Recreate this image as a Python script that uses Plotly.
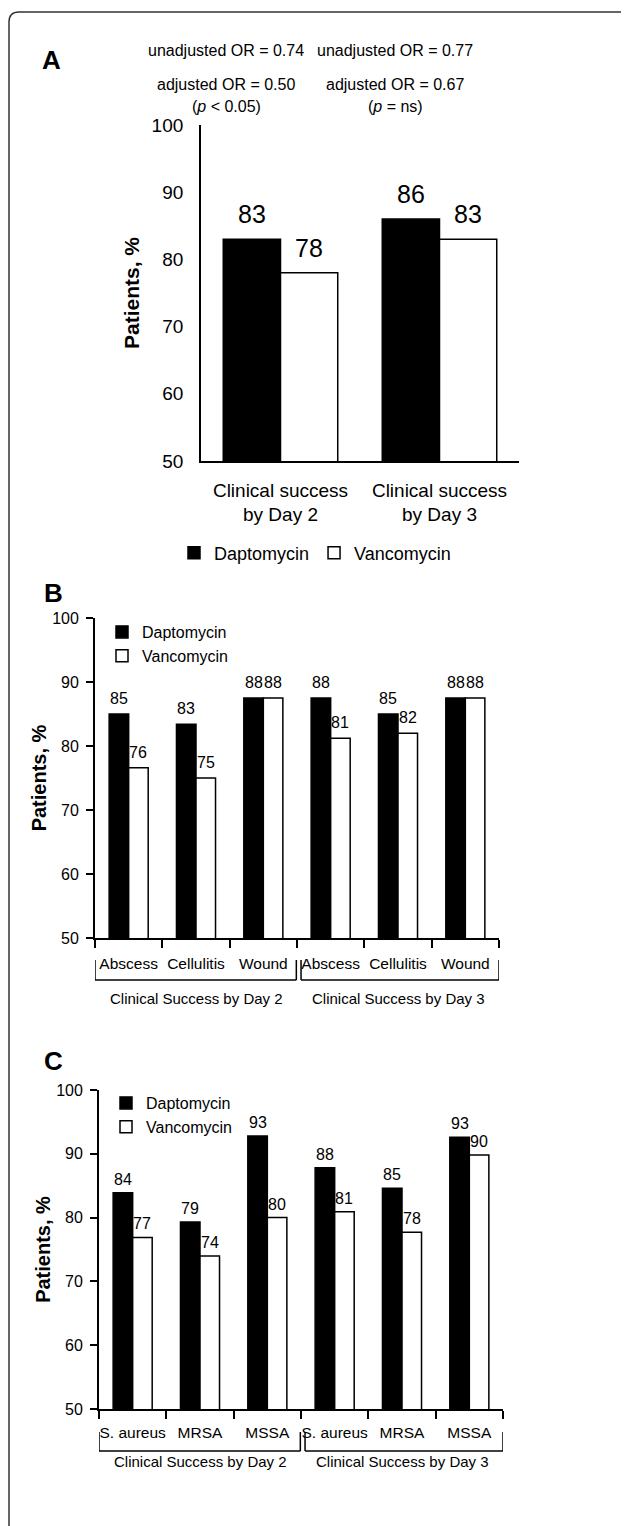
import plotly.graph_objects as go

# ---------------- data ----------------
# Panel A
a_categories = ["Clinical success<br>by Day 2", "Clinical success<br>by Day 3"]
a_dapto = [83, 86]
a_vanco = [78, 83]
a_or_unadjusted = ["unadjusted OR = 0.74", "unadjusted OR = 0.77"]
a_or_adjusted = ["adjusted OR = 0.50", "adjusted OR = 0.67"]
a_p_values = ["(<i>p</i> < 0.05)", "(<i>p</i> = ns)"]

# Panel B
b_ids = ["D2 Abscess", "D2 Cellulitis", "D2 Wound", "D3 Abscess", "D3 Cellulitis", "D3 Wound"]
b_ticktext = ["Abscess", "Cellulitis", "Wound", "Abscess", "Cellulitis", "Wound"]
b_dapto = [85.0, 83.4, 87.5, 87.5, 85.0, 87.5]
b_vanco = [76.6, 75.0, 87.5, 81.2, 82.0, 87.5]
b_dapto_labels = ["85", "83", "88", "88", "85", "88"]
b_vanco_labels = ["76", "75", "88", "81", "82", "88"]

# Panel C
c_ids = ["D2 S. aureus", "D2 MRSA", "D2 MSSA", "D3 S. aureus", "D3 MRSA", "D3 MSSA"]
c_ticktext = ["S. aureus", "MRSA", "MSSA", "S. aureus", "MRSA", "MSSA"]
c_dapto = [83.9, 79.3, 92.8, 87.8, 84.6, 92.6]
c_vanco = [76.9, 74.0, 80.0, 80.9, 77.7, 89.8]
c_dapto_labels = ["84", "79", "93", "88", "85", "93"]
c_vanco_labels = ["77", "74", "80", "81", "78", "90"]

group_names = ["Clinical Success by Day 2", "Clinical Success by Day 3"]
series_names = ["Daptomycin", "Vancomycin"]
y_ticks = [50, 60, 70, 80, 90, 100]

# ---------------- layout helpers ----------------
W, H = 629, 1526
OFF = 8  # page body margin


def X(px):
    return (px - OFF) / W


def Y(py):
    return 1 - (py - OFF) / H


SANS = "Liberation Sans, Arial, sans-serif"
BLACK = "#000000"

fig = go.Figure()
ann = []


def add_pair(xs, d, v, dl, vl, xa, ya, leg, width, axis_px, ncat, tsize, yshift):
    fig.add_trace(go.Bar(
        x=xs, y=d, name=series_names[0], xaxis=xa, yaxis=ya, legend=leg,
        marker=dict(color=BLACK, line=dict(color=BLACK, width=1.5)),
        width=width, offset=-width,
    ))
    fig.add_trace(go.Bar(
        x=xs, y=v, name=series_names[1], xaxis=xa, yaxis=ya, legend=leg,
        marker=dict(color="#ffffff", line=dict(color=BLACK, width=1.5)),
        width=width, offset=0,
    ))
    half = width * (axis_px / ncat) / 2
    for vals, labs, sgn in ((d, dl, -1), (v, vl, 1)):
        for xc, yv, lab in zip(xs, vals, labs):
            ann.append(dict(text=lab, x=xc, y=yv, xref=xa, yref=ya, xanchor="center",
                            yanchor="bottom", xshift=sgn * half, yshift=yshift, showarrow=False,
                            font=dict(size=tsize, family=SANS, color=BLACK)))


add_pair(a_categories, a_dapto, a_vanco, [str(v) for v in a_dapto], [str(v) for v in a_vanco],
         "x", "y", "legend", 0.36, 318, 2, 25, 9)
add_pair(b_ids, b_dapto, b_vanco, b_dapto_labels, b_vanco_labels,
         "x2", "y2", "legend2", 0.29, 404, 6, 16, 5)
add_pair(c_ids, c_dapto, c_vanco, c_dapto_labels, c_vanco_labels,
         "x3", "y3", "legend3", 0.29, 404, 6, 16, 3)

axis_common = dict(showgrid=False, zeroline=False, showline=True, linecolor=BLACK,
                   linewidth=1.8, automargin=False, fixedrange=True)

fig.update_layout(
    width=W, height=H,
    margin=dict(l=0, r=0, t=0, b=0),
    paper_bgcolor="white", plot_bgcolor="white",
    font=dict(family=SANS, color=BLACK),
    barmode="group",
    # Panel A
    xaxis=dict(domain=[X(201), X(519)], anchor="y", ticks="", range=[-0.5, 1.5], tickangle=0,
               tickfont=dict(size=19, family=SANS), ticklabelstandoff=11, **axis_common),
    yaxis=dict(domain=[Y(461), Y(125)], anchor="x", range=[50, 100], tickvals=y_ticks,
               ticks="", tickfont=dict(size=19, family=SANS), ticklabelstandoff=12,
               title=dict(text="<b>Patients, %</b>", font=dict(size=21, family=SANS), standoff=6),
               **axis_common),
    # Panel B
    xaxis2=dict(domain=[X(95), X(499)], anchor="y2", type="category", range=[-0.5, 5.5],
                tickmode="array", tickvals=b_ids, ticktext=b_ticktext, tickson="boundaries",
                tickangle=0, ticks="outside", ticklen=8, tickwidth=1.5, tickcolor=BLACK,
                tickfont=dict(size=15.5, family=SANS), ticklabelstandoff=10, **axis_common),
    yaxis2=dict(domain=[Y(938), Y(618)], anchor="x2", range=[50, 100], tickvals=y_ticks,
                ticks="outside", ticklen=7, tickwidth=1.5, tickcolor=BLACK,
                tickfont=dict(size=16, family=SANS), ticklabelstandoff=4,
                title=dict(text="<b>Patients, %</b>", font=dict(size=20, family=SANS), standoff=0),
                **axis_common),
    # Panel C
    xaxis3=dict(domain=[X(99), X(503)], anchor="y3", type="category", range=[-0.5, 5.5],
                tickmode="array", tickvals=c_ids, ticktext=c_ticktext, tickson="boundaries",
                tickangle=0, ticks="outside", ticklen=8, tickwidth=1.5, tickcolor=BLACK,
                tickfont=dict(size=15.5, family=SANS), ticklabelstandoff=8, **axis_common),
    yaxis3=dict(domain=[Y(1409), Y(1090)], anchor="x3", range=[50, 100], tickvals=y_ticks,
                ticks="outside", ticklen=7, tickwidth=1.5, tickcolor=BLACK,
                tickfont=dict(size=16, family=SANS), ticklabelstandoff=4,
                title=dict(text="<b>Patients, %</b>", font=dict(size=20, family=SANS), standoff=0),
                **axis_common),
    legend=dict(orientation="h", x=X(174), xanchor="left", y=Y(553), yanchor="middle",
                font=dict(size=18, family=SANS), bgcolor="rgba(0,0,0,0)", borderwidth=0),
    legend2=dict(orientation="v", x=X(102), xanchor="left", y=Y(615), yanchor="top",
                 font=dict(size=16, family=SANS), bgcolor="rgba(0,0,0,0)", borderwidth=0),
    legend3=dict(orientation="v", x=X(106), xanchor="left", y=Y(1086), yanchor="top",
                 font=dict(size=16, family=SANS), bgcolor="rgba(0,0,0,0)", borderwidth=0),
    showlegend=True,
)

# ---------------- annotations ----------------
# panel letters
for letter, (px, py) in zip(["A", "B", "C"], [(40, 43), (42, 593), (42, 1078)]):
    ann.append(dict(text=f"<b>{letter}</b>", x=X(px), y=Y(py), xref="paper", yref="paper",
                    showarrow=False, font=dict(size=26, family=SANS)))
# odds ratio texts (panel A)
or_x = [226, 395]
for i in range(2):
    ann.append(dict(text=a_or_unadjusted[i], x=X(or_x[i]), y=Y(40), xref="paper", yref="paper",
                    showarrow=False, font=dict(size=16, family=SANS)))
    ann.append(dict(text=a_or_adjusted[i], x=X(or_x[i]), y=Y(74), xref="paper", yref="paper",
                    showarrow=False, font=dict(size=16, family=SANS)))
    ann.append(dict(text=a_p_values[i], x=X(or_x[i]), y=Y(96), xref="paper", yref="paper",
                    showarrow=False, font=dict(size=16, family=SANS)))

shapes = []
# group brackets + labels for B and C
for xref, y_line, y_top, y_label in [("x2", 980, 960, 998), ("x3", 1451, 1432, 1472)]:
    for g, (x0, x1, xc) in enumerate([(-0.5, 2.49, 1), (2.56, 5.5, 4)]):
        shapes.append(dict(type="line", xref=xref, yref="paper", x0=x0, x1=x1,
                           y0=Y(y_line), y1=Y(y_line), line=dict(color=BLACK, width=1.5)))
        for xe in (x0, x1):
            shapes.append(dict(type="line", xref=xref, yref="paper", x0=xe, x1=xe,
                               y0=Y(y_line), y1=Y(y_top), line=dict(color=BLACK, width=1.5)))
        ann.append(dict(text=group_names[g], x=xc, y=Y(y_label), xref=xref, yref="paper",
                        showarrow=False, font=dict(size=15, family=SANS)))

# rounded outer frame
r = 10
frame = (f"M {X(9)},{Y(1545)} L {X(9)},{Y(12 + r)} Q {X(9)},{Y(12)} {X(9 + r)},{Y(12)} "
         f"L {X(631 - r)},{Y(12)} Q {X(631)},{Y(12)} {X(631)},{Y(12 + r)} L {X(631)},{Y(1545)}")
shapes.append(dict(type="path", xref="paper", yref="paper", path=frame,
                   line=dict(color="#333333", width=1.5)))

fig.update_layout(annotations=ann, shapes=shapes)

fig.write_html("out.html")
